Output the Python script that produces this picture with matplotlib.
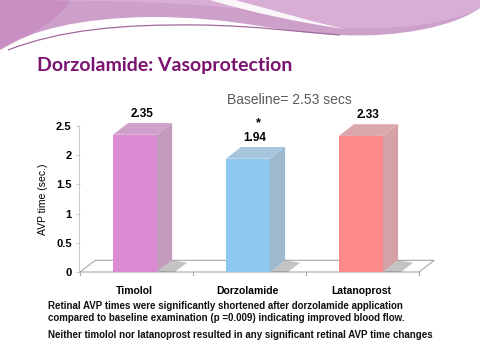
import numpy as np
import matplotlib.pyplot as plt
from matplotlib.path import Path
from matplotlib.patches import PathPatch, Polygon

plt.rcParams['font.family'] = ['Liberation Sans', 'DejaVu Sans']

# dados do gráfico
categorias = ['Timolol', 'Dorzolamide', 'Latanoprost']
tempos_avp = [2.35, 1.94, 2.33]
rotulos_valor = ['2.35', '1.94', '2.33']
cores_frente = ['#DC8AD2', '#8EC8EE', '#FF8A8C']
cores_lado = ['#C39CBD', '#9CB9CF', '#D4A2A6']
cores_topo = ['#CFA0CA', '#A6C6DE', '#DCA7AB']
y_ticks = [0, 0.5, 1, 1.5, 2, 2.5]
y_tick_labels = ['0', '0.5', '1', '1.5', '2', '2.5']

titulo = 'Dorzolamide: Vasoprotection'
texto_baseline = 'Baseline= 2.53 secs'
notas = ['Retinal AVP times were significantly shortened after dorzolamide application',
         'compared to baseline examination (p =0.009) indicating improved blood flow.',
         'Neither timolol nor latanoprost resulted in any significant retinal AVP time changes']

fig = plt.figure(figsize=(4.8, 3.6), dpi=100)
fig.patch.set_facecolor('white')

# fundo do slide (faixa roxa no topo), coordenadas em pixels
bg = fig.add_axes([0, 0, 1, 1], zorder=0)
bg.set_xlim(0, 480)
bg.set_ylim(360, 0)
bg.axis('off')

M, C, L = Path.MOVETO, Path.CURVE4, Path.LINETO
faixa = Path([(0, 0), (480, 0), (480, 8),
              (455, 26), (400, 38), (340, 35),
              (270, 32), (240, 17), (150, 17),
              (80, 18), (30, 30), (0, 50), (0, 0)],
             [M, L, L, C, C, C, C, C, C, C, C, C, L])
bg.add_patch(PathPatch(faixa, facecolor='#CDA0CA', edgecolor='none'))
# tom mais magenta no canto esquerdo
canto = Path([(0, 0), (70, 0), (60, 20), (30, 35), (0, 50), (0, 0)],
             [M, L, C, C, C, L])
bg.add_patch(PathPatch(canto, facecolor='#C070B4', edgecolor='none', alpha=0.35))
# lado direito mais claro
direita = Path([(250, 0), (480, 0), (480, 8), (450, 24), (400, 30), (335, 28), (290, 15), (250, 0)],
               [M, L, L, C, C, C, C, C])
bg.add_patch(PathPatch(direita, facecolor='#DDB2D9', edgecolor='none', alpha=0.8))
# listra branca diagonal
listra = Path([(210, 0), (235, 0), (280, 12), (320, 24), (345, 29),
               (300, 23), (250, 12), (210, 0)],
              [M, L, C, C, C, C, C, C])
bg.add_patch(PathPatch(listra, facecolor='white', edgecolor='none', alpha=0.9))
# linha fina abaixo da faixa
linha = Path([(8, 50), (60, 30), (120, 24), (200, 25), (260, 26), (300, 32), (340, 35)],
             [M, C, C, C, C, C, C])
bg.add_patch(PathPatch(linha, facecolor='none', edgecolor='#A26A9E', lw=0.9))

bg.text(37, 66, titulo, fontsize=14, fontweight='bold', color='#7B1270',
        family=['Lato', 'DejaVu Sans'], va='center', ha='left')
bg.text(289, 100, texto_baseline, fontsize=10, color='#5A5A5A', va='center', ha='center')

bg.text(48, 306, notas[0], fontsize=7, fontweight='bold', color='#111111', va='center', ha='left')
bg.text(48, 318, notas[1], fontsize=7, fontweight='bold', color='#111111', va='center', ha='left')
bg.text(48, 335, notas[2], fontsize=7, fontweight='bold', color='#111111', va='center', ha='left')

# eixo principal: x 0..3 -> 80..419 px, y 0..2.5 -> 272..126 px
ax = fig.add_axes([80 / 480, 88 / 360, 339 / 480, 146 / 360], zorder=1)
ax.set_xlim(0, 3)
ax.set_ylim(0, 2.5)
ax.patch.set_alpha(0)
for s in ax.spines.values():
    s.set_visible(False)

dx, dy = 0.135, 0.2     # profundidade do efeito 3D
larg = 0.39
esq = 0.29

# piso
piso = Polygon([(0, 0), (3, 0), (3 + dx, dy), (dx, dy)], closed=True,
               facecolor='white', edgecolor='#A8A8A8', lw=0.8, clip_on=False, zorder=1)
ax.add_patch(piso)
for i in range(4):
    ax.plot([i, i], [0, -0.05], color='#A8A8A8', lw=0.8, clip_on=False, zorder=1)
ax.plot([-0.01, -0.01], [0, 2.5], color='#C8C8C8', lw=0.7, clip_on=False, zorder=1)

for i, v in enumerate(tempos_avp):
    x0 = i + esq
    x1 = x0 + larg
    # sombra no piso
    ax.add_patch(Polygon([(x1, 0.0), (x1 + 0.16, 0.0), (x1 + 0.16 + dx * 0.8, dy * 0.8), (x1 + dx, dy)],
                         closed=True, facecolor='#555555', alpha=0.35, edgecolor='none',
                         clip_on=False, zorder=2))
    ax.add_patch(Polygon([(x1, 0), (x1 + dx, dy), (x1 + dx, v + dy), (x1, v)], closed=True,
                         facecolor=cores_lado[i], edgecolor='none', clip_on=False, zorder=3))
    ax.add_patch(Polygon([(x0, v), (x1, v), (x1 + dx, v + dy), (x0 + dx, v + dy)], closed=True,
                         facecolor=cores_topo[i], edgecolor='none', clip_on=False, zorder=3))
    ax.add_patch(Polygon([(x0, 0), (x1, 0), (x1, v), (x0, v)], closed=True,
                         facecolor=cores_frente[i], edgecolor='none', clip_on=False, zorder=4))
    ax.text(i + 0.55, v + dy + 0.06, rotulos_valor[i], ha='center', va='bottom',
            fontsize=8.5, fontweight='bold', zorder=5)

ax.text(1.575, tempos_avp[1] + dy + 0.4, '*', ha='center', va='center',
        fontsize=9, fontweight='bold', zorder=5)

ax.set_yticks(y_ticks)
ax.set_yticklabels(y_tick_labels, fontsize=8, fontweight='bold')
ax.tick_params(axis='y', length=3, color='#C8C8C8', pad=3)
ax.set_xticks([i + esq + larg / 2 for i in range(3)])
ax.set_xticklabels(categorias, fontsize=7.5, fontweight='bold')
ax.tick_params(axis='x', length=0, pad=10)
ax.set_ylabel('AVP time (sec.)', fontsize=7.5)
ax.yaxis.set_label_coords(-0.095, 0.5)

fig.savefig('out.png', dpi=100)
